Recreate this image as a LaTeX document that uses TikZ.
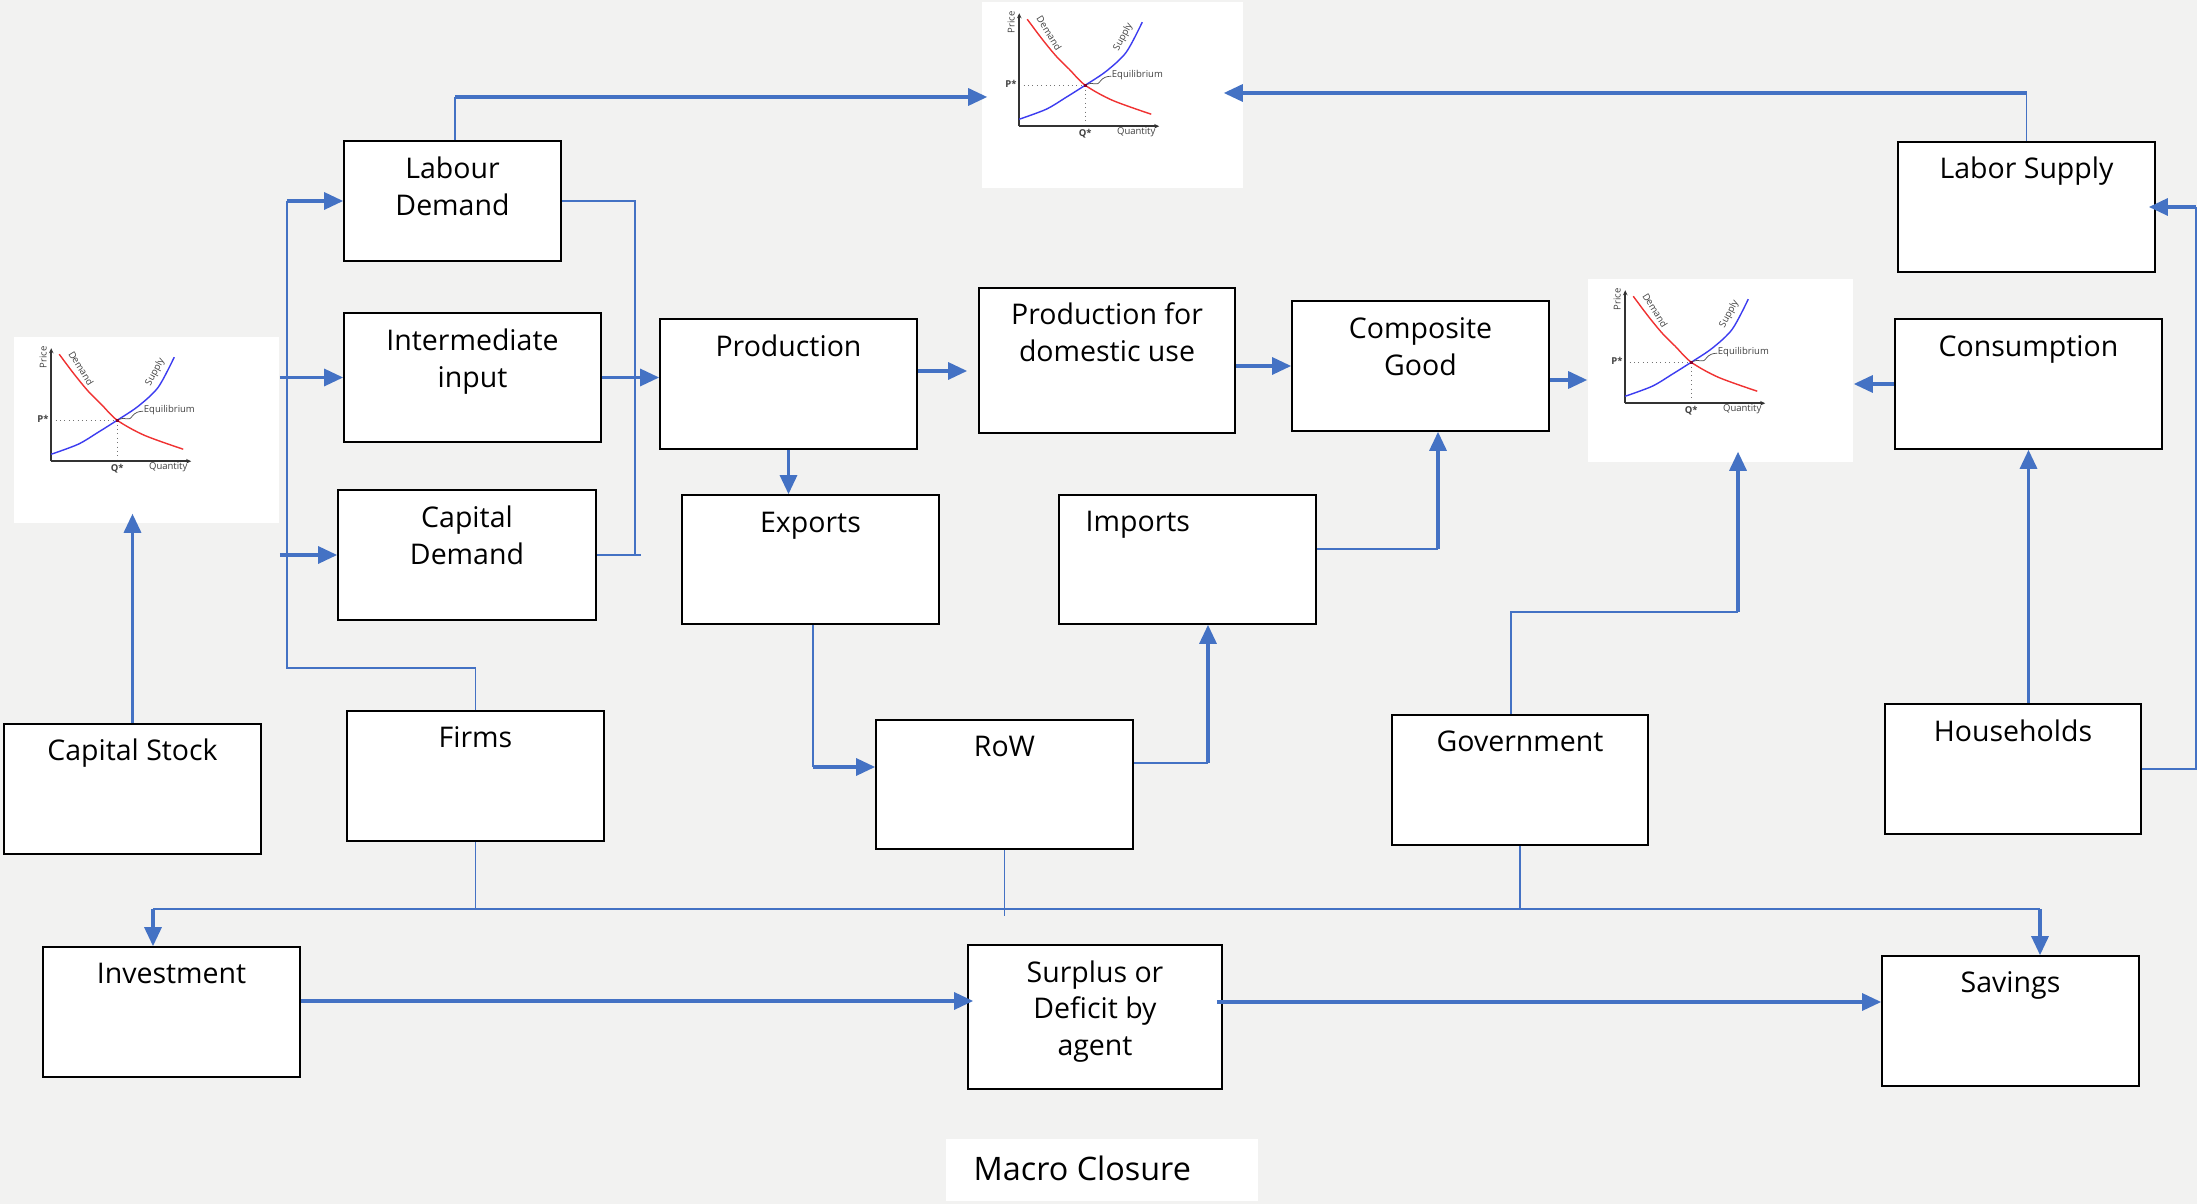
\documentclass[tikz,border=0pt]{standalone}
\usepackage{fontspec}
\setmainfont{Open Sans}
\usetikzlibrary{arrows.meta,calc}
\definecolor{bg}{RGB}{242,242,241}
\definecolor{lnk}{RGB}{68,114,196}
\definecolor{dcol}{RGB}{240,50,50}
\definecolor{scol}{RGB}{60,60,240}
\newcommand\mltxt[1]{\begin{tabular}[t]{@{}c@{}}#1\end{tabular}}
\newcommand\sdgraph[1]{%
\begin{scope}[shift={(#1.north west)}]
 \draw[black!55, line width=0.25pt, densely dotted] (38,84) -- (104,84) -- (104,125);
 \draw[black!80, line width=0.55pt, -{Stealth[length=0.05cm,width=0.045cm]}] (38,125) -- (38,12);
 \draw[black!80, line width=0.55pt, -{Stealth[length=0.05cm,width=0.045cm]}] (38,125) -- (178,125);
 \draw[dcol, line width=0.4pt] plot[smooth] coordinates {(46,18) (61,38) (75,55) (88,68) (104,84) (131,99) (170,113)};
 \draw[scol, line width=0.4pt] plot[smooth] coordinates {(38,118) (65,108) (85,96) (104,84) (125,70) (145,51) (161,21)};
 \fill[purple!70!black] (102.5,82.5) rectangle (105.5,85.5);
 \draw[black!70, line width=0.2pt] (106,83) .. controls (112,80) and (115,86) .. (119,80) .. controls (122,76) and (126,75) .. (130,75);
 \node[clab, anchor=east] (#1-p) at (36,83) {\bfseries P*};
 \node[clab, anchor=north] (#1-q) at (104,127) {\bfseries Q*};
 \node[clab, anchor=north] (#1-qt) at (155,126) {Quantity};
 \node[clab, rotate=90] (#1-pr) at (30,21) {Price};
 \node[clab, rotate=-58] (#1-d) at (68,32) {Demand};
 \node[clab, rotate=62] (#1-s) at (142,36) {Supply};
 \node[clab, anchor=west] (#1-e) at (130,74) {Equilibrium};
\end{scope}}
\begin{document}
\begin{tikzpicture}[x=0.01cm,y=-0.01cm,
 box/.style={draw=black, line width=0.45pt, fill=white, inner sep=0pt},
 chart/.style={fill=white, inner sep=0pt},
 lbl/.style={anchor=base, inner sep=0pt, font=\fontsize{8.1}{10.5}\selectfont},
 conn/.style={draw=lnk, line width=0.45pt},
 flow/.style={draw=lnk, line width=0.9pt, -{Triangle[length=0.19cm,width=0.17cm]}},
 clab/.style={inner sep=0pt, font=\fontsize{2.7}{3}\selectfont, text=black!75}]
\useasboundingbox (0,0) rectangle (2197,1204);
\fill[bg] (0,0) rectangle (2197,1204);

% charts
\node[chart, minimum width=2.61cm, minimum height=1.86cm] (chTop) at (1112.5,95) {};
\node[chart, minimum width=2.65cm, minimum height=1.86cm] (chLeft) at (146.5,430) {};
\node[chart, minimum width=2.65cm, minimum height=1.83cm] (chRight) at (1720.5,370.5) {};
\sdgraph{chTop}
\sdgraph{chLeft}
\sdgraph{chRight}

% boxes
\node[box, minimum width=2.17cm, minimum height=1.20cm] (labD) at (452.5,201) {};
\node[box, minimum width=2.57cm, minimum height=1.29cm] (intI) at (472.5,377.5) {};
\node[box, minimum width=2.58cm, minimum height=1.30cm] (capD) at (467,555) {};
\node[box, minimum width=2.57cm, minimum height=1.30cm] (prod) at (788.5,384) {};
\node[box, minimum width=2.56cm, minimum height=1.45cm] (pfd) at (1107,360.5) {};
\node[box, minimum width=2.57cm, minimum height=1.30cm] (comp) at (1420.5,366) {};
\node[box, minimum width=2.57cm, minimum height=1.29cm] (exp) at (810.5,559.5) {};
\node[box, minimum width=2.57cm, minimum height=1.29cm] (imp) at (1187.5,559.5) {};
\node[box, minimum width=2.57cm, minimum height=1.30cm] (labS) at (2026.5,207) {};
\node[box, minimum width=2.67cm, minimum height=1.30cm] (cons) at (2028.5,384) {};
\node[box, minimum width=2.57cm, minimum height=1.30cm] (capS) at (132.5,789) {};
\node[box, minimum width=2.57cm, minimum height=1.30cm] (firms) at (475.5,776) {};
\node[box, minimum width=2.57cm, minimum height=1.29cm] (row) at (1004.5,784.5) {};
\node[box, minimum width=2.56cm, minimum height=1.30cm] (gov) at (1520,780) {};
\node[box, minimum width=2.56cm, minimum height=1.30cm] (hh) at (2013,769) {};
\node[box, minimum width=2.57cm, minimum height=1.30cm] (inv) at (171.5,1012) {};
\node[box, minimum width=2.54cm, minimum height=1.44cm] (surp) at (1095,1017) {};
\node[box, minimum width=2.57cm, minimum height=1.30cm] (sav) at (2010.5,1021) {};
\node[fill=white, inner sep=0pt, minimum width=3.12cm, minimum height=0.62cm] (macro) at (1102,1170) {};

% texts
\node[lbl] (labD-t) at (452.5,178.5) {\mltxt{Labour\\Demand}};
\node[lbl] (intI-t) at (472.5,350.5) {\mltxt{Intermediate\\input}};
\node[lbl] (capD-t) at (467,527.5) {\mltxt{Capital\\Demand}};
\node[lbl] (prod-t) at (788.5,357) {Production};
\node[lbl] (pfd-t) at (1107,325) {\mltxt{Production for\\domestic use}};
\node[lbl] (comp-t) at (1420.5,338.5) {\mltxt{Composite\\Good}};
\node[lbl] (exp-t) at (810.5,532.5) {Exports};
\node[lbl, anchor=base west] (imp-t) at (1085,532) {Imports};
\node[lbl] (labS-t) at (2026.5,179) {Labor Supply};
\node[lbl] (cons-t) at (2028.5,357) {Consumption};
\node[lbl] (capS-t) at (132.5,761) {Capital Stock};
\node[lbl] (firms-t) at (475.5,748) {Firms};
\node[lbl] (row-t) at (1004.5,757) {RoW};
\node[lbl] (gov-t) at (1520,752) {Government};
\node[lbl] (hh-t) at (2013,742) {Households};
\node[lbl] (inv-t) at (171.5,984) {Investment};
\node[lbl] (surp-t) at (1095,982) {\mltxt{Surplus or\\Deficit by\\agent}};
\node[lbl] (sav-t) at (2010.5,992) {Savings};
\node[lbl, anchor=base west, font=\fontsize{9.2}{11}\selectfont] (macro-t) at (973,1180) {Macro Closure};

% left bus
\coordinate (busL) at (287,668);
\draw[conn] (firms.north) |- (busL) -- (busL |- labD.west);
\draw[flow] (busL |- labD.west) -- (labD.west);
\draw[flow] (chLeft.east |- intI.west) -- (intI.west);
\draw[flow] (chLeft.east |- capD.west) -- (capD.west);

% right bracket
\coordinate (brk) at (635,555);
\draw[conn] (labD.east) -| (brk);
\draw[conn] (capD.east) -- ++(44,0);
\draw[flow] (intI.east) -- (intI.east -| prod.west);

% production chain
\coordinate (pe) at ([yshift=0.13cm]prod.east);
\draw[flow, shorten >=0.11cm] (pe) -- (pe -| pfd.west);
\draw[flow] (pfd.east |- comp.west) -- (comp.west);
\coordinate (ce) at ([yshift=-0.14cm]comp.east);
\draw[flow] (ce) -- (ce -| chRight.west);
\draw[flow] (cons.west) -- (cons.west -| chRight.east);
\draw[flow] (prod.south) -- (prod.south |- exp.north);

% exports to RoW
\coordinate (e2r) at (813,767);
\draw[conn] (exp.south -| e2r) -- (e2r);
\draw[flow] (e2r) -- (e2r -| row.west);

% RoW to imports
\coordinate (r2i) at (1208,763);
\draw[conn] (row.east |- r2i) -- (r2i);
\draw[flow] (r2i) -- (r2i |- imp.south);

% imports to composite
\coordinate (i2c) at (1438,549);
\draw[conn] (imp.east |- i2c) -- (i2c);
\draw[flow] (i2c) -- (i2c |- comp.south);

% government to chart
\coordinate (g2c) at (1738,612);
\coordinate (gn) at ([xshift=-0.09cm]gov.north);
\draw[conn] (gn) |- (g2c);
\draw[flow, shorten >=-0.11cm] (g2c) -- (g2c |- chRight.south);

% households
\draw[flow] (hh.north -| cons.south) -- (cons.south);
\coordinate (h2l) at (2196,207);
\draw[conn] (hh.east) -| (h2l);
\draw[flow, shorten >=-0.07cm] (h2l) -- (h2l -| labS.east);

% labor supply to top chart
\coordinate (l2c) at (2026.5,93);
\draw[conn] (labS.north) -- (l2c);
\draw[flow, shorten >=-0.2cm] (l2c) -- (l2c -| chTop.east);

% labour demand to top chart
\coordinate (d2c) at (455,97);
\draw[conn] (labD.north -| d2c) -- (d2c);
\draw[flow, shorten >=-0.06cm] (d2c) -- (d2c -| chTop.west);

% capital stock to left chart
\draw[flow, shorten >=-0.1cm] (capS.north) -- (capS.north |- chLeft.south);

% bottom bus
\coordinate (bb1) at (153,909);
\coordinate (bb2) at (2040,909);
\draw[conn] (bb1) -- (bb2);
\draw[conn] (firms.south) -- (firms.south |- bb1);
\draw[conn] (row.south) -- ++(0,66);
\draw[conn] (gov.south) -- (gov.south |- bb1);
\draw[flow] (bb1) -- (bb1 |- inv.north);
\draw[flow] (bb2) -- (bb2 |- sav.north);

% macro closure flows
\coordinate (ie) at ([yshift=0.11cm]inv.east);
\draw[flow, shorten >=-0.06cm] (ie) -- (ie -| surp.west);
\coordinate (se) at ([yshift=0.15cm]surp.east);
\draw[flow, shorten <=-0.06cm] (se) -- (se -| sav.west);
\end{tikzpicture}
\end{document}
